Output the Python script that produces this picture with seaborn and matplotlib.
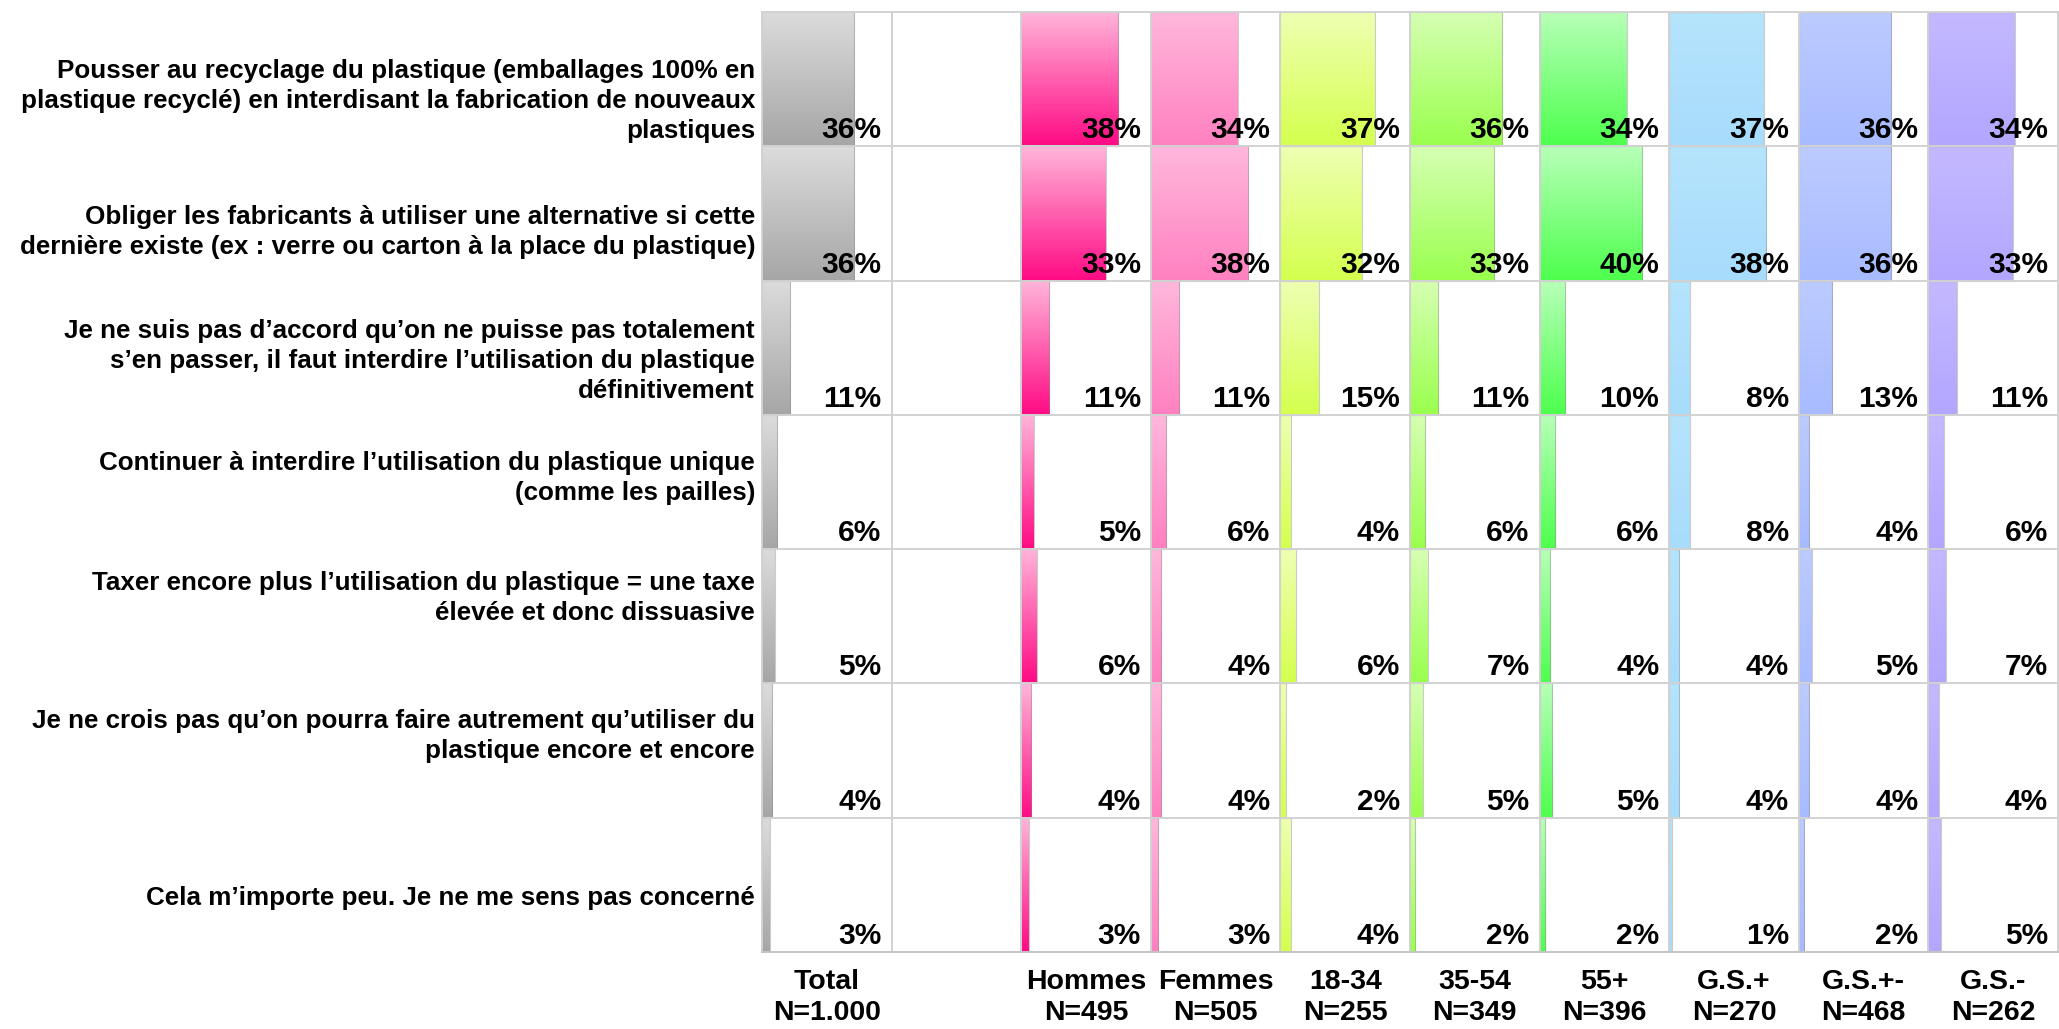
import numpy as np
import pandas as pd
import matplotlib
matplotlib.use("Agg")
import matplotlib.pyplot as plt
import matplotlib.transforms as mtransforms
import seaborn as sns
from matplotlib.colors import to_rgb

sns.set_theme(style="white")
plt.rcParams["font.family"] = ["Liberation Sans", "DejaVu Sans"]

answers = [
    "Pousser au recyclage du plastique (emballages 100% en\nplastique recyclé) en interdisant la fabrication de nouveaux\nplastiques",
    "Obliger les fabricants à utiliser une alternative si cette\ndernière existe (ex : verre ou carton à la place du plastique)",
    "Je ne suis pas d’accord qu’on ne puisse pas totalement\ns’en passer, il faut interdire l’utilisation du plastique\ndéfinitivement",
    "Continuer à interdire l’utilisation du plastique unique\n(comme les pailles)",
    "Taxer encore plus l’utilisation du plastique = une taxe\nélevée et donc dissuasive",
    "Je ne crois pas qu’on pourra faire autrement qu’utiliser du\nplastique encore et encore",
    "Cela m’importe peu. Je ne me sens pas concerné",
]

headers = ["Total\nN=1.000", "", "Hommes\nN=495", "Femmes\nN=505", "18-34\nN=255",
           "35-54\nN=349", "55+\nN=396", "G.S.+\nN=270", "G.S.+-\nN=468", "G.S.-\nN=262"]

total = [36, 36, 11, 6, 5, 4, 3]
hommes = [38, 33, 11, 5, 6, 4, 3]
femmes = [34, 38, 11, 6, 4, 4, 3]
age_18_34 = [37, 32, 15, 4, 6, 2, 4]
age_35_54 = [36, 33, 11, 6, 7, 5, 2]
age_55 = [34, 40, 10, 6, 4, 5, 2]
gs_plus = [37, 38, 8, 8, 4, 4, 1]
gs_mid = [36, 36, 13, 4, 5, 4, 2]
gs_minus = [34, 33, 11, 6, 7, 4, 5]

series = [total, None, hommes, femmes, age_18_34, age_35_54, age_55, gs_plus, gs_mid, gs_minus]

# gradient colours (top, bottom) per column
gradients = [
    ("#dcdcdc", "#a6a6a6"),
    None,
    ("#ffb6da", "#ff0a84"),
    ("#ffb8dc", "#ff80c0"),
    ("#eeffb3", "#d4ff4d"),
    ("#d6ffb3", "#99ff4d"),
    ("#b8ffb8", "#4dff4d"),
    ("#b5e4fc", "#a8dcfc"),
    ("#bccbff", "#a8bbff"),
    ("#c4b9ff", "#b2a6ff"),
]

label_offsets = [0.12, 0.10, 0.06, -0.07, -0.18, -0.15, 0.08]  # fraction of row height, downward

GRID = "#d2d2d2"
XMAX = 50.7
W, H = 2059, 1029
fig = plt.figure(figsize=(W / 100, H / 100), dpi=100)
gsp = fig.add_gridspec(1, 10, left=762 / W, right=2058 / W, top=1 - 12 / H,
                       bottom=1 - 952 / H, wspace=0)

row_h_in = (952 - 12) / 7 / 100


def gradient_fill(ax, patch, top, bottom):
    x0, y0 = patch.get_x(), patch.get_y()
    w, h = patch.get_width(), patch.get_height()
    t = np.linspace(0, 1, 256)[:, None]
    c = (1 - t) * np.array(to_rgb(top)) + t * np.array(to_rgb(bottom))
    img = c.reshape(256, 1, 3)
    im = ax.imshow(img, extent=(x0, x0 + w, y0 + h, y0), origin="upper",
                   aspect="auto", interpolation="bilinear", zorder=1)
    im.set_clip_path(patch)
    patch.set_facecolor("none")
    patch.set_edgecolor((0.55, 0.55, 0.55, 0.45))
    patch.set_linewidth(0.8)
    patch.set_zorder(2)


for i in range(10):
    ax = fig.add_subplot(gsp[0, i])
    vals = series[i]
    if vals is not None:
        df = pd.DataFrame({"answer": answers, "value": vals})
        sns.barplot(data=df, x="value", y="answer", orient="h", width=1.0,
                    color=gradients[i][1], saturation=1, ax=ax, errorbar=None)
        for p in list(ax.patches):
            gradient_fill(ax, p, *gradients[i])
        trans = mtransforms.blended_transform_factory(ax.transAxes, ax.transData)
        for j, v in enumerate(vals):
            ax.annotate(f"{v}%", xy=(1, j + 0.5), xycoords=trans,
                        xytext=(-10, 8), textcoords="offset pixels",
                        ha="right", va="baseline", fontsize=21.5,
                        fontweight="bold", color="black", zorder=5)
    ax.set_xlim(0, XMAX)
    ax.set_ylim(6.5, -0.5)
    for y in np.arange(0.5, 6.5, 1.0):
        ax.axhline(y, color=GRID, lw=1.4, zorder=3)
    for s in ax.spines.values():
        s.set_visible(True)
        s.set_color(GRID)
        s.set_linewidth(1.4)
        s.set_zorder(3)
    ax.spines["bottom"].set_color("#c4c4c4")
    ax.set_xticks([])
    ax.set_xlabel(headers[i], fontsize=20.5, fontweight="bold", labelpad=12,
                  linespacing=1.25, color="black")
    if i == 0:
        ax.set_yticks(range(len(answers)))
        ax.set_yticklabels(answers, fontsize=18.7, fontweight="bold",
                           linespacing=1.31, color="black")
        ax.tick_params(axis="y", length=0, pad=5)
        for lab, off in zip(ax.get_yticklabels(), label_offsets):
            lab.set_horizontalalignment("right")
            lab.set_transform(lab.get_transform() + mtransforms.ScaledTranslation(
                0, -off * row_h_in, fig.dpi_scale_trans))
    else:
        ax.set_yticks([])
    ax.set_ylabel("")

fig.savefig("out.png", dpi=100, facecolor="white")
